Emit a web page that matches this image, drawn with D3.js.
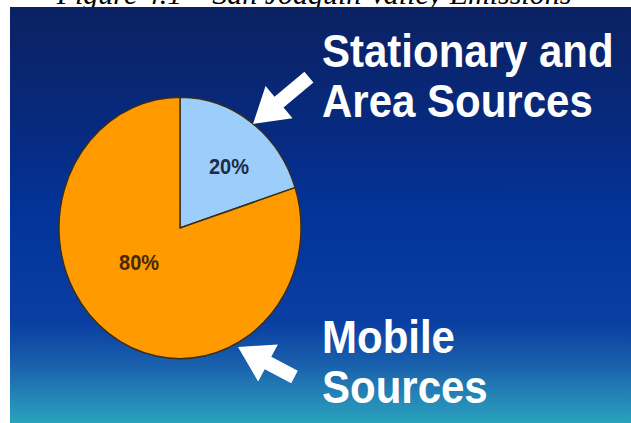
<!DOCTYPE html>
<html>
<head>
<meta charset="utf-8">
<script src="https://cdn.jsdelivr.net/npm/d3@7/dist/d3.min.js"></script>
<style>
  html, body { margin: 0; padding: 0; background: #fff; }
  svg { display: block; }
</style>
</head>
<body>
<svg width="631" height="423"></svg>
<script>
// data
var categories = ["Stationary and Area Sources", "Mobile Sources"];
var shares = [20, 80];
var sliceLabels = ["20%", "80%"];
var calloutLines = [["Stationary and", "Area Sources"], ["Mobile", "Sources"]];
var title = "Figure 4.1 \u2013 San Joaquin Valley Emissions";

var svg = d3.select("svg"),
    width = +svg.attr("width"),
    height = +svg.attr("height");

// 背景渐变
var defs = svg.append("defs");
var grad = defs.append("linearGradient")
    .attr("id", "bg").attr("x1", 0).attr("y1", 0).attr("x2", 0).attr("y2", 1);
[[0, "#0b2162"], [0.3, "#072a80"], [0.5, "#02349a"], [0.76, "#0a3fa2"],
 [0.86, "#1a60ac"], [0.93, "#2382b5"], [1, "#2aa2be"]].forEach(function(s) {
  grad.append("stop").attr("offset", s[0]).attr("stop-color", s[1]);
});

// title (mostly hidden behind the panel, like the source)
svg.append("text")
    .attr("x", 314).attr("y", 4)
    .attr("text-anchor", "middle")
    .attr("font-family", "Liberation Serif, serif")
    .attr("font-style", "italic")
    .attr("font-size", 30)
    .attr("fill", "#000")
    .text(title);

svg.append("rect")
    .attr("x", 10).attr("y", 7)
    .attr("width", width - 10).attr("height", height - 7)
    .attr("fill", "url(#bg)");

// 饼图
var cx = 180, cy = 228, r = 121;
var pie = d3.pie().sort(null).value(function(d) { return d; });
var arc = d3.arc().innerRadius(0).outerRadius(r);
var color = d3.scaleOrdinal().domain(categories).range(["#9dcdfb", "#ff9a00"]);

var g = svg.append("g")
    .attr("transform", "translate(" + cx + "," + cy + ") scale(1,1.08)");

var arcs = pie(shares);
g.selectAll("path")
  .data(arcs)
  .enter().append("path")
    .attr("d", arc)
    .attr("fill", function(d, i) { return color(categories[i]); })
    .attr("stroke", "#3a2e1a")
    .attr("stroke-width", 1.4);

// 百分比标签
var labelPos = [[49, -57], [-41, 32]];
g.selectAll("text.pct")
  .data(arcs)
  .enter().append("text")
    .attr("class", "pct")
    .attr("x", function(d, i) { return labelPos[i][0]; })
    .attr("y", function(d, i) { return labelPos[i][1]; })
    .attr("dy", "0.35em")
    .attr("text-anchor", "middle")
    .attr("font-family", "Liberation Sans Narrow, Liberation Sans, Arial, sans-serif")
    .attr("font-weight", "bold")
    .attr("font-size", 20)
    .attr("fill", function(d, i) { return i === 0 ? "#1c2c48" : "#4a2800"; })
    .text(function(d, i) { return sliceLabels[i]; });

// arrows
function arrowPath(len) {
  var hl = 34, hw = 21, sw = 7;
  return "M0,0 L" + hl + "," + (-hw) + " L" + hl + "," + (-sw) +
         " L" + len + "," + (-sw) + " L" + len + "," + sw +
         " L" + hl + "," + sw + " L" + hl + "," + hw + " Z";
}
var arrows = [
  {x: 253, y: 124, angle: -40, len: 73},
  {x: 238, y: 347, angle: 28, len: 64}
];
svg.selectAll("path.arrow")
  .data(arrows)
  .enter().append("path")
    .attr("class", "arrow")
    .attr("d", function(d) { return arrowPath(d.len); })
    .attr("transform", function(d) { return "translate(" + d.x + "," + d.y + ") rotate(" + d.angle + ")"; })
    .attr("fill", "#fff");

// callout text
var callouts = [{x: 322, y: 67}, {x: 322, y: 353}];
callouts.forEach(function(c, i) {
  var t = svg.append("text")
      .attr("transform", "translate(" + c.x + "," + c.y + ") scale(1,1.08)")
      .attr("font-family", "Liberation Sans, Arial, sans-serif")
      .attr("font-weight", "bold")
      .attr("font-size", 42)
      .attr("fill", "#fff");
  calloutLines[i].forEach(function(line, j) {
    t.append("tspan").attr("x", 0).attr("y", j * 46.5).text(line);
  });
});
</script>
</body>
</html>
